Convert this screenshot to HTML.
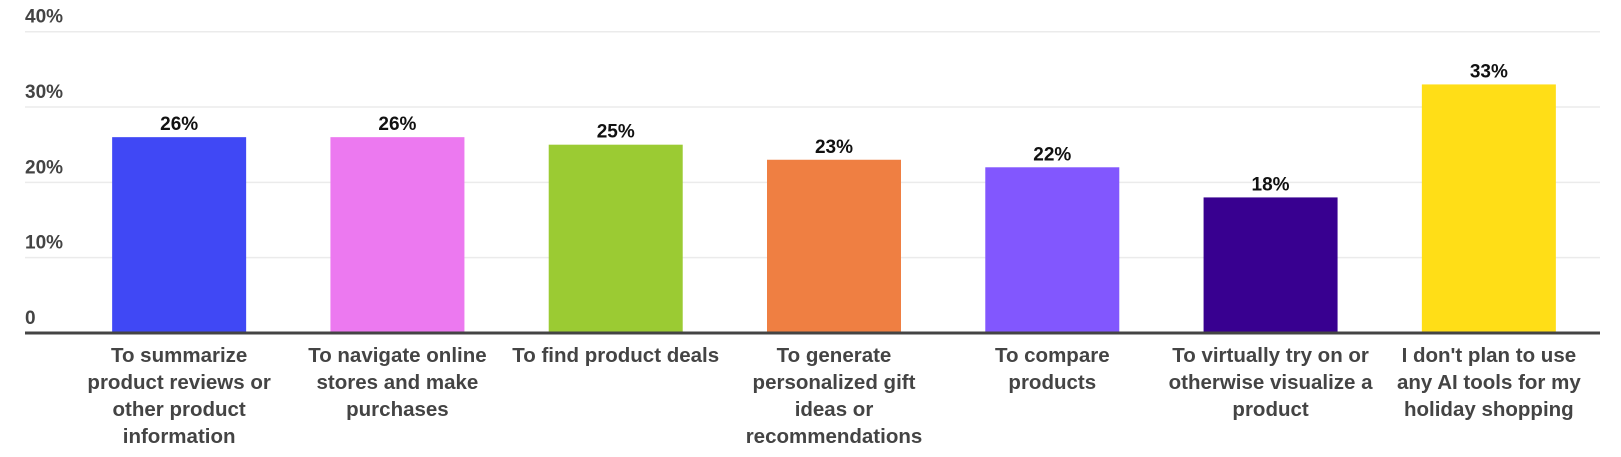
<!DOCTYPE html>
<html><head><meta charset="utf-8"><style>
body{margin:0;background:#fff;}
svg{display:block;font-family:"Liberation Sans",sans-serif;font-weight:bold;}
</style></head><body>
<svg id="chart" width="1621" height="457" viewBox="0 0 1621 457"></svg>
<script>
const categories=[["To summarize","product reviews or","other product","information"],["To navigate online","stores and make","purchases"],["To find product deals"],["To generate","personalized gift","ideas or","recommendations"],["To compare","products"],["To virtually try on or","otherwise visualize a","product"],["I don't plan to use","any AI tools for my","holiday shopping"]];
const values=[26,26,25,23,22,18,33];
const valueLabels=["26%","26%","25%","23%","22%","18%","33%"];
const colors=["#4048F5","#EC79F0","#9BCB33","#EF7F42","#8257FE","#380090","#FFDE17"];
const ticks=[0,10,20,30,40];
const tickLabels=["0","10%","20%","30%","40%"];
const svg=document.getElementById('chart');
const NS="http://www.w3.org/2000/svg";
const x0=70,x1=1598,y0=333,yTop=31.7,vmax=40;
const band=(x1-x0)/categories.length,barW=134;
const y=v=>y0-(v/vmax)*(y0-yTop);
const xc=i=>x0+band*(i+0.5);
function mk(t,a){const e=document.createElementNS(NS,t);for(const k in a)e.setAttribute(k,a[k]);svg.appendChild(e);return e;}
ticks.forEach((t,i)=>{
 if(t>0){const l=mk('line',{x1:25,x2:1600,y1:y(t),y2:y(t),stroke:'#ebebeb','stroke-width':1.5});
 
 }
 const tx=mk('text',{x:25,y:y(t)-9,'font-size':19,fill:'#444'});
 tx.textContent=tickLabels[i];
 
 
});
values.forEach((v,i)=>{
 const r=mk('rect',{x:xc(i)-barW/2,y:y(v),width:barW,height:y0-y(v),fill:colors[i]});
 
 
 const t=mk('text',{x:xc(i),y:y(v)-7,'font-size':19,fill:'#111','text-anchor':'middle'});
 t.textContent=valueLabels[i];
 
 
 categories[i].forEach((line,j)=>{
  const c=mk('text',{x:xc(i),y:362+j*27,'font-size':20.5,fill:'#444','text-anchor':'middle'});
  c.textContent=line;
  
  
 });
});
const ax=mk('line',{x1:25,x2:1600,y1:y0,y2:y0,stroke:'#444','stroke-width':3});


</script>
</body></html>
